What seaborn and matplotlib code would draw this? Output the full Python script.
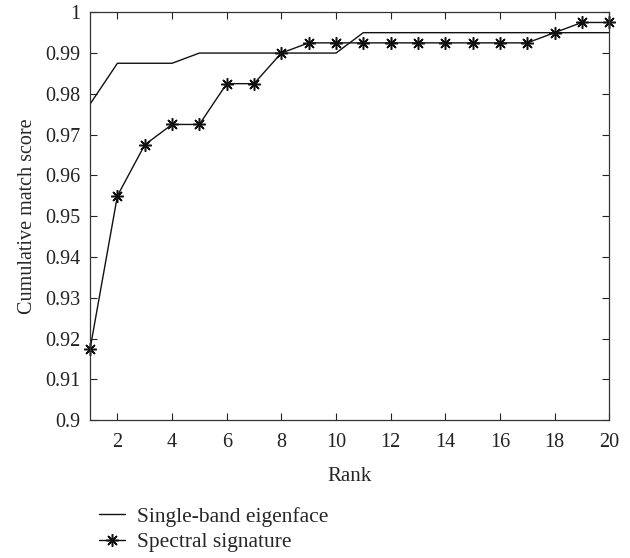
import numpy as np
import pandas as pd
import seaborn as sns
import matplotlib.pyplot as plt

# Ranks and cumulative match scores
rank = list(range(1, 21))
single_band = [0.9775, 0.9875, 0.9875, 0.9875, 0.99, 0.99, 0.99, 0.99, 0.99, 0.99,
               0.995, 0.995, 0.995, 0.995, 0.995, 0.995, 0.995, 0.995, 0.995, 0.995]
spectral = [0.9175, 0.955, 0.9675, 0.9725, 0.9725, 0.9825, 0.9825, 0.99, 0.9925, 0.9925,
            0.9925, 0.9925, 0.9925, 0.9925, 0.9925, 0.9925, 0.9925, 0.995, 0.9975, 0.9975]
x_ticks = [2, 4, 6, 8, 10, 12, 14, 16, 18, 20]
y_ticks = [0.9, 0.91, 0.92, 0.93, 0.94, 0.95, 0.96, 0.97, 0.98, 0.99, 1.0]
y_labels = ["0.9", "0.91", "0.92", "0.93", "0.94", "0.95", "0.96", "0.97", "0.98", "0.99", "1"]

df = pd.DataFrame({"Rank": rank, "Single-band eigenface": single_band,
                   "Spectral signature": spectral})

sns.set_style("ticks")
plt.rcParams['font.family'] = ['Liberation Serif', 'DejaVu Serif']

fig = plt.figure(figsize=(6.3, 5.58), dpi=100)
ax = fig.add_axes([0.143, 0.247, 0.824, 0.731])

sns.lineplot(data=df, x="Rank", y="Single-band eigenface", ax=ax, color="#111111",
             linewidth=1.0, label="Single-band eigenface")
sns.lineplot(data=df, x="Rank", y="Spectral signature", ax=ax, color="#111111",
             linewidth=1.0, marker=(8, 2, 0), markersize=9, markeredgewidth=1.1,
             markeredgecolor="#111111", label="Spectral signature", clip_on=False)

ax.set_xlim(1, 20)
ax.set_ylim(0.9, 1.0)
ax.set_xticks(x_ticks)
ax.set_yticks(y_ticks)
ax.set_yticklabels(y_labels)
ax.tick_params(direction="in", top=True, right=True, labelsize=14.5, length=5,
               width=0.8, colors="#222222", pad=7)
ax.tick_params(axis="x", pad=9)
for s in ax.spines.values():
    s.set_visible(True)
    s.set_linewidth(0.9)
    s.set_color("#333333")
ax.set_xlabel("Rank", fontsize=15, labelpad=11)
ax.set_ylabel("Cumulative match score", fontsize=14.5, labelpad=6)

ax.legend(loc="upper left", bbox_to_anchor=(-0.02, -0.165), frameon=False,
          fontsize=15.5, handlelength=1.2, handletextpad=0.55, labelspacing=0.25)

fig.savefig("out.png", dpi=100)
